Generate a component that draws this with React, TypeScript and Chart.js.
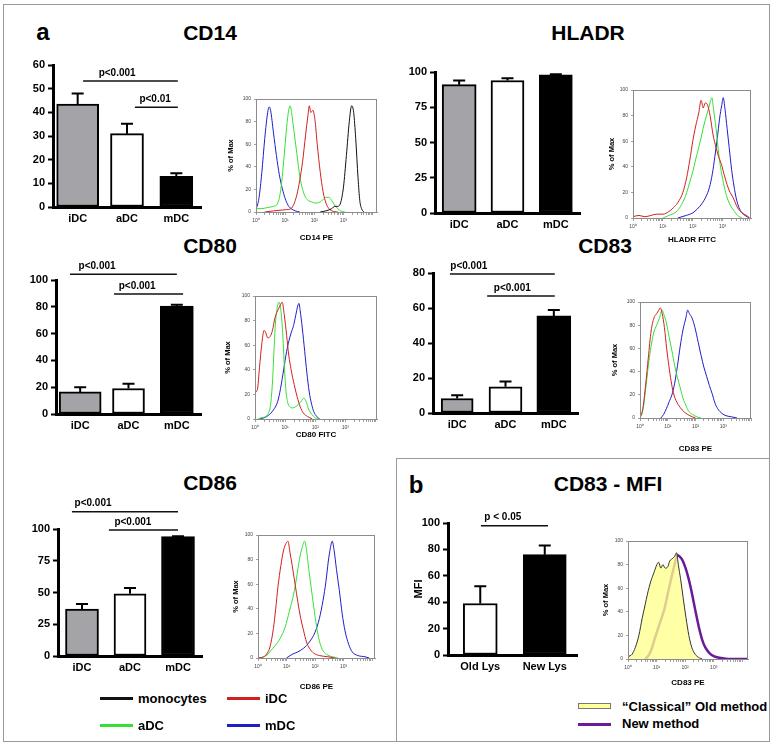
import React, { useEffect, useRef } from "react";
import { Chart, registerables } from "chart.js";

Chart.register(...registerables);

const FONT = "Arial, 'Liberation Sans', Helvetica, sans-serif";

// ---------------- bar chart data ----------------
const dcLabels = ["iDC", "aDC", "mDC"];
const cd14Means = [43.5, 31, 13];
const cd14Errors = [4.5, 4.2, 1.3];
const hladrMeans = [91, 94, 98];
const hladrErrors = [3, 1.5, 0.4];
const cd80Means = [16.5, 19, 80.5];
const cd80Errors = [3.5, 3.5, 1];
const cd83Means = [8.3, 15, 55.5];
const cd83Errors = [1.8, 3, 3.3];
const cd86Means = [37, 49, 94];
const cd86Errors = [4, 4.5, 0.3];
const mfiLabels = ["Old Lys", "New Lys"];
const mfiMeans = [39, 76];
const mfiErrors = [13, 7];

// significance brackets: [from category, to category, level, text position, text]
const cd14Sig = [
  [0.11, 2.03, 53.2, 0.8, "p<0.001"],
  [1.16, 2.03, 42.2, 1.57, "p<0.01"],
];
const cd80Sig = [
  [-0.21, 2.0, 104.2, 0.35, "p<0.001"],
  [0.7, 2.13, 89.5, 1.18, "p<0.001"],
];
const cd83Sig = [
  [-0.15, 2.02, 79.4, 0.24, "p<0.001"],
  [0.62, 2.02, 66.9, 1.14, "p<0.001"],
];
const cd86Sig = [
  [-0.21, 2.0, 113.6, 0.23, "p<0.001"],
  [0.56, 2.0, 99.2, 1.06, "p<0.001"],
];
const mfiSig = [[0.01, 1.05, 98, 0.35, "p < 0.05"]];

// ---------------- histogram data: [log10 decade, % of max] ----------------
const cd14Blue = [[0,2],[0.1,12],[0.2,35],[0.3,65],[0.4,88],[0.45,93],[0.5,90],[0.6,70],[0.7,50],[0.8,33],[0.9,21],[1.0,12],[1.1,6],[1.2,3],[1.35,1],[1.5,0]];
const cd14Green = [[0,28],[0.02,3],[0.2,3],[0.4,4],[0.6,5],[0.75,8],[0.85,20],[0.95,45],[1.05,75],[1.12,90],[1.17,94],[1.22,88],[1.3,72],[1.4,52],[1.5,32],[1.6,20],[1.7,13],[1.8,10],[1.9,9],[2.0,8],[2.1,8],[2.2,9],[2.3,11],[2.4,13],[2.5,13],[2.6,10],[2.7,6],[2.8,3],[2.9,1],[3.05,0]];
const cd14Red = [[0.3,0],[0.6,1],[1.0,2],[1.2,3],[1.3,7],[1.4,15],[1.5,28],[1.6,45],[1.7,68],[1.78,85],[1.83,94],[1.88,88],[1.95,90],[2.02,82],[2.1,60],[2.2,36],[2.3,18],[2.4,8],[2.5,3],[2.6,1],[2.8,0]];
const cd14Black = [[2.2,0],[2.4,1],[2.6,3],[2.7,5],[2.8,5],[2.9,8],[3.0,22],[3.1,50],[3.2,80],[3.28,94],[3.35,88],[3.42,65],[3.5,30],[3.56,10],[3.62,3],[3.7,0]];

const hladrRed = [[0,1],[0.2,2],[0.4,1],[0.6,2],[0.8,3],[1.0,3],[1.2,5],[1.35,8],[1.5,12],[1.67,20],[1.8,32],[1.9,45],[2.0,60],[2.1,72],[2.2,82],[2.28,92],[2.35,86],[2.42,90],[2.5,88],[2.58,80],[2.68,65],[2.78,55],[2.88,47],[2.96,42],[3.05,34],[3.15,26],[3.25,20],[3.35,16],[3.5,8],[3.65,4],[3.8,2],[3.9,0]];
const hladrGreen = [[1.0,0],[1.2,2],[1.4,4],[1.56,8],[1.7,14],[1.8,20],[1.9,28],[2.0,36],[2.1,46],[2.2,55],[2.3,65],[2.4,75],[2.5,83],[2.58,90],[2.64,94],[2.7,84],[2.78,70],[2.88,48],[2.98,33],[3.08,22],[3.18,14],[3.28,9],[3.4,5],[3.5,2],[3.65,0]];
const hladrBlue = [[1.5,0],[1.78,2],[2.0,4],[2.15,7],[2.3,11],[2.45,17],[2.56,24],[2.66,35],[2.74,48],[2.82,62],[2.9,78],[2.97,88],[3.02,94],[3.08,85],[3.15,70],[3.22,55],[3.3,38],[3.38,25],[3.46,15],[3.55,8],[3.65,4],[3.75,2],[3.9,0]];

const cd80Red = [[0,97],[0.015,22],[0.08,24],[0.15,42],[0.22,60],[0.3,72],[0.36,70],[0.42,66],[0.5,67],[0.58,72],[0.66,82],[0.75,88],[0.83,92],[0.9,95],[0.97,85],[1.05,68],[1.12,52],[1.2,40],[1.3,28],[1.4,18],[1.5,10],[1.6,5],[1.75,2],[1.9,0]];
const cd80Green = [[0.1,0],[0.2,1],[0.35,2],[0.45,5],[0.52,12],[0.58,30],[0.63,55],[0.68,78],[0.75,92],[0.8,95],[0.86,88],[0.92,70],[0.97,45],[1.02,25],[1.08,14],[1.15,10],[1.25,9],[1.35,10],[1.45,12],[1.55,15],[1.62,17],[1.7,14],[1.78,8],[1.88,4],[2.0,1],[2.15,0]];
const cd80Blue = [[0.15,0],[0.3,1],[0.45,3],[0.6,7],[0.75,14],[0.85,25],[0.95,40],[1.05,55],[1.12,63],[1.2,70],[1.28,76],[1.35,84],[1.42,92],[1.46,94],[1.5,88],[1.57,74],[1.65,55],[1.72,38],[1.8,22],[1.88,12],[1.95,6],[2.05,2],[2.15,0]];

const cd83Red = [[0,0],[0.1,8],[0.2,28],[0.3,52],[0.4,75],[0.5,86],[0.6,90],[0.68,93],[0.73,95],[0.8,90],[0.88,78],[0.96,60],[1.04,45],[1.12,32],[1.2,22],[1.3,15],[1.45,9],[1.6,5],[1.8,2],[2.0,0]];
const cd83Green = [[0,0],[0.1,6],[0.2,24],[0.3,45],[0.4,62],[0.5,74],[0.6,80],[0.7,86],[0.8,93],[0.85,90],[0.95,82],[1.05,70],[1.15,58],[1.25,45],[1.35,35],[1.45,26],[1.55,17],[1.65,11],[1.75,6],[1.9,3],[2.05,1],[2.2,0]];
const cd83Blue = [[0.75,0],[0.85,3],[0.95,8],[1.05,14],[1.15,20],[1.25,30],[1.35,45],[1.45,62],[1.55,76],[1.65,86],[1.72,93],[1.78,90],[1.88,86],[1.98,78],[2.1,65],[2.2,54],[2.3,44],[2.4,36],[2.5,28],[2.6,21],[2.7,13],[2.8,8],[2.95,4],[3.1,2],[3.3,1],[3.5,0]];

const cd86Red = [[0,0],[0.2,1],[0.3,3],[0.42,9],[0.54,24],[0.62,40],[0.7,58],[0.8,75],[0.9,88],[0.98,93],[1.05,95],[1.12,86],[1.2,75],[1.3,60],[1.4,45],[1.5,32],[1.6,22],[1.7,13],[1.8,8],[1.95,4],[2.15,2],[2.45,1],[2.7,0]];
const cd86Green = [[0,25],[0.02,0],[0.2,1],[0.35,3],[0.45,6],[0.6,10],[0.78,16],[0.95,25],[1.1,38],[1.25,52],[1.35,65],[1.45,80],[1.55,90],[1.63,95],[1.7,88],[1.78,72],[1.86,58],[1.95,42],[2.05,26],[2.15,14],[2.25,7],[2.4,3],[2.6,1],[2.8,0]];
const cd86Blue = [[1.0,0],[1.2,3],[1.4,5],[1.6,8],[1.8,13],[2.0,21],[2.15,32],[2.28,47],[2.38,62],[2.46,78],[2.54,90],[2.6,95],[2.67,87],[2.75,72],[2.85,55],[2.95,36],[3.05,22],[3.18,11],[3.3,5],[3.5,2],[3.75,1],[3.9,0]];

const mfiOld = [[0,2],[0.14,4],[0.26,10],[0.38,20],[0.5,35],[0.6,46],[0.68,55],[0.8,66],[0.92,74],[1.01,80],[1.07,82],[1.15,77],[1.22,80],[1.3,77],[1.39,78],[1.46,83],[1.55,85],[1.63,87],[1.7,90],[1.76,80],[1.84,68],[1.93,52],[2.03,35],[2.13,20],[2.23,10],[2.35,4],[2.5,1],[2.6,0]];
const mfiNew = [[0.6,0],[0.72,3],[0.82,8],[0.92,16],[1.04,25],[1.15,33],[1.27,42],[1.39,55],[1.51,68],[1.62,79],[1.72,88],[1.8,87],[1.9,84],[2.0,78],[2.1,70],[2.2,60],[2.3,48],[2.4,36],[2.5,25],[2.6,16],[2.7,10],[2.85,5],[3.0,2.5],[3.2,1],[3.5,0],[4.2,0]];

const histMajorLabels = ["10\u2070", "10\u00b9", "10\u00b2", "10\u00b3"];
const histYLabel = "% of Max";

// ---------------- styles ----------------
const RED = "#d02020";
const GREEN = "#35e035";
const BLUE = "#1e1ec8";
const BLACK = "#111111";
const PURPLE = "#6a1b9a";
const YELLOW_FILL = "rgba(255,255,140,0.78)";
const dcColors = ["#a4a4a8", "#ffffff", "#000000"];
const mfiColors = ["#ffffff", "#000000"];

const barPanels = [
  { key: "cd14", labels: dcLabels, means: cd14Means, errors: cd14Errors, sig: cd14Sig, max: 60, step: 10, axisX: 53, topY: 65, zeroY: 207, endX: 201, padTop: 12, colors: dcColors, widths: [42, 33, 33], yAxisW: 40 },
  { key: "hladr", labels: dcLabels, means: hladrMeans, errors: hladrErrors, sig: [], max: 100, step: 25, axisX: 435, topY: 72, zeroY: 213, endX: 580, padTop: 10, colors: dcColors, widths: [34, 33, 33], yAxisW: 40 },
  { key: "cd80", labels: dcLabels, means: cd80Means, errors: cd80Errors, sig: cd80Sig, max: 100, step: 20, axisX: 56, topY: 280, zeroY: 414, endX: 201, padTop: 25, colors: dcColors, widths: [42, 32, 33], yAxisW: 40 },
  { key: "cd83", labels: dcLabels, means: cd83Means, errors: cd83Errors, sig: cd83Sig, max: 80, step: 20, axisX: 433, topY: 273, zeroY: 413, endX: 578, padTop: 20, colors: dcColors, widths: [32, 33, 34], yAxisW: 40 },
  { key: "cd86", labels: dcLabels, means: cd86Means, errors: cd86Errors, sig: cd86Sig, max: 100, step: 25, axisX: 58, topY: 529, zeroY: 656, endX: 202, padTop: 36, colors: dcColors, widths: [33, 32, 33], yAxisW: 40 },
  { key: "mfi", labels: mfiLabels, means: mfiMeans, errors: mfiErrors, sig: mfiSig, max: 100, step: 20, axisX: 448, topY: 523, zeroY: 655, endX: 577, padTop: 18, colors: mfiColors, widths: [34, 43], yAxisW: 36, yTitle: "MFI" },
];

const histPanels = [
  { key: "h14", title: "CD14 PE", xMax: 4.15, L: 256, R: 377, T: 99, B: 212, yT: 231, xT: 238,
    curves: [{ p: cd14Black, c: BLACK }, { p: cd14Red, c: RED }, { p: cd14Green, c: GREEN }, { p: cd14Blue, c: BLUE }] },
  { key: "hdr", title: "HLADR FITC", xMax: 3.95, L: 633, R: 751, T: 90, B: 218, yT: 612, xT: 240,
    curves: [{ p: hladrRed, c: RED }, { p: hladrGreen, c: GREEN }, { p: hladrBlue, c: BLUE }] },
  { key: "h80", title: "CD80 FITC", xMax: 4.05, L: 255, R: 377, T: 296, B: 419, yT: 228, xT: 435,
    curves: [{ p: cd80Red, c: RED }, { p: cd80Green, c: GREEN }, { p: cd80Blue, c: BLUE }] },
  { key: "h83", title: "CD83 PE", xMax: 4.0, L: 640, R: 751, T: 302, B: 418, yT: 615, xT: 449,
    curves: [{ p: cd83Red, c: RED }, { p: cd83Green, c: GREEN }, { p: cd83Blue, c: BLUE }] },
  { key: "h86", title: "CD86 PE", xMax: 4.1, L: 258, R: 375, T: 535, B: 658, yT: 236, xT: 687,
    curves: [{ p: cd86Red, c: RED }, { p: cd86Green, c: GREEN }, { p: cd86Blue, c: BLUE }] },
  { key: "hmfi", title: "CD83 PE", xMax: 4.2, L: 628, R: 748, T: 541, B: 659, yT: 606, xT: 683,
    curves: [{ p: mfiOld, c: "#333333", fill: YELLOW_FILL }, { p: mfiNew, c: PURPLE, w: 2.5 }] },
];

const panelTitles = [
  { text: "a", x: 43, y: 32, size: 24 },
  { text: "CD14", x: 210, y: 32, size: 21 },
  { text: "HLADR", x: 588, y: 32, size: 21 },
  { text: "CD80", x: 210, y: 245, size: 21 },
  { text: "CD83", x: 605, y: 245, size: 21 },
  { text: "CD86", x: 210, y: 482, size: 21 },
  { text: "b", x: 416, y: 485, size: 24 },
  { text: "CD83 - MFI", x: 608, y: 483, size: 21 },
];

const legendA = [
  { text: "monocytes", color: BLACK, x: 100, y: 698 },
  { text: "iDC", color: RED, x: 227, y: 698 },
  { text: "aDC", color: GREEN, x: 100, y: 725 },
  { text: "mDC", color: BLUE, x: 227, y: 725 },
];

// ---------------- plugins ----------------
const errorBarPlugin = {
  id: "errorBars",
  afterDatasetsDraw(chart: any) {
    const { ctx } = chart;
    const ys = chart.scales.y;
    ctx.save();
    ctx.strokeStyle = "#000";
    ctx.lineWidth = 2;
    chart.data.datasets.forEach((ds: any, d: number) => {
      const meta = chart.getDatasetMeta(d);
      meta.data.forEach((el: any, i: number) => {
        const v = ds.data[i];
        const e = ds.errors ? ds.errors[i] : null;
        if (v == null || e == null) return;
        const y0 = ys.getPixelForValue(v);
        const y1 = ys.getPixelForValue(v + e);
        ctx.beginPath();
        ctx.moveTo(el.x, y0);
        ctx.lineTo(el.x, y1);
        ctx.moveTo(el.x - 6, y1);
        ctx.lineTo(el.x + 6, y1);
        ctx.stroke();
      });
    });
    ctx.restore();
  },
};

function makeSigPlugin(sig: any[]) {
  return {
    id: "sigBrackets",
    afterDraw(chart: any) {
      const { ctx } = chart;
      const xs = chart.scales.x;
      const ys = chart.scales.y;
      ctx.save();
      ctx.strokeStyle = "#111";
      ctx.lineWidth = 1.5;
      ctx.fillStyle = "#000";
      ctx.font = `bold 10px ${FONT}`;
      ctx.textAlign = "center";
      ctx.textBaseline = "bottom";
      for (const [a, b, lvl, lx, txt] of sig) {
        const py = ys.getPixelForValue(lvl);
        ctx.beginPath();
        ctx.moveTo(xs.getPixelForValue(a), py);
        ctx.lineTo(xs.getPixelForValue(b), py);
        ctx.stroke();
        ctx.fillText(txt, xs.getPixelForValue(lx), py - 3);
      }
      ctx.restore();
    },
  };
}

const boxPlugin = {
  id: "histBox",
  afterDraw(chart: any) {
    const a = chart.chartArea;
    const { ctx } = chart;
    ctx.save();
    ctx.strokeStyle = "#8c8c8c";
    ctx.lineWidth = 1;
    ctx.strokeRect(Math.round(a.left) + 0.5, Math.round(a.top) + 0.5, Math.round(a.right - a.left) - 1, Math.round(a.bottom - a.top));
    ctx.restore();
  },
};

// ---------------- components ----------------
function BarChart({ p }: any) {
  const ref = useRef<HTMLCanvasElement>(null);
  const left = p.axisX - p.yAxisW;
  const top = p.topY - p.padTop;
  const width = p.endX - left + 4;
  const height = p.zeroY + 25 - top;
  useEffect(() => {
    const datasets = p.labels.map((lab: string, i: number) => ({
      label: lab,
      data: p.means.map((v: number, j: number) => (j === i ? v : null)),
      errors: p.errors.map((v: number, j: number) => (j === i ? v : null)),
      backgroundColor: p.colors[i],
      borderColor: "#000",
      borderWidth: 2,
      borderSkipped: false,
      barThickness: p.widths[i],
      grouped: false,
    }));
    const tickFont = { family: FONT, size: 11, weight: "bold" };
    const chart = new Chart(ref.current as HTMLCanvasElement, {
      type: "bar",
      data: { labels: p.labels, datasets },
      options: {
        responsive: false,
        animation: false,
        events: [],
        layout: { padding: { top: p.padTop, right: 4, left: 0, bottom: 0 } },
        plugins: { legend: { display: false }, tooltip: { enabled: false } },
        scales: {
          x: {
            offset: true,
            grid: { display: false, drawTicks: false },
            border: { display: true, color: "#000", width: 3 },
            ticks: { color: "#000", font: tickFont, padding: 5 },
            afterFit: (s: any) => { s.height = 25; },
          },
          y: {
            min: 0,
            max: p.max,
            ticks: { stepSize: p.step, color: "#000", font: tickFont, padding: 3 },
            grid: { drawOnChartArea: false, drawTicks: true, tickLength: 5, tickWidth: 2, tickColor: "#000" },
            border: { display: true, color: "#000", width: 3 },
            title: p.yTitle
              ? { display: true, text: p.yTitle, color: "#000", font: { family: FONT, size: 11, weight: "bold" }, padding: 0 }
              : { display: false },
            afterFit: (s: any) => { s.width = p.yAxisW; },
          },
        },
      } as any,
      plugins: [errorBarPlugin, makeSigPlugin(p.sig)],
    } as any);
    return () => chart.destroy();
  }, []);
  return <canvas ref={ref} width={width} height={height} style={{ position: "absolute", left, top, width, height }} />;
}

function HistChart({ h }: any) {
  const ref = useRef<HTMLCanvasElement>(null);
  const left = Math.round(h.yT - 5);
  const top = h.T - 6;
  const width = h.R + 4 - left;
  const bottom = Math.round(h.xT + 5);
  const height = bottom - top;
  useEffect(() => {
    const tickVals: number[] = [];
    for (let n = 0; n <= 4; n++) {
      for (let k = 1; k <= 9; k++) {
        const v = n + Math.log10(k);
        if (v <= h.xMax + 1e-9) tickVals.push(v);
      }
    }
    const datasets = h.curves.map((c: any) => ({
      data: c.p.map((pt: number[]) => ({ x: pt[0], y: pt[1] })),
      borderColor: c.c,
      borderWidth: c.w || 1,
      pointRadius: 0,
      fill: c.fill ? "origin" : false,
      backgroundColor: c.fill || "transparent",
      cubicInterpolationMode: "monotone",
    }));
    const small = { family: FONT, size: 5 };
    const chart = new Chart(ref.current as HTMLCanvasElement, {
      type: "line",
      data: { datasets },
      options: {
        responsive: false,
        animation: false,
        events: [],
        layout: { padding: { top: 6, right: 4, left: 0, bottom: 0 } },
        plugins: { legend: { display: false }, tooltip: { enabled: false } },
        scales: {
          x: {
            type: "linear",
            min: 0,
            max: h.xMax,
            afterBuildTicks: (s: any) => { s.ticks = tickVals.map((value) => ({ value })); },
            ticks: {
              autoSkip: false,
              maxRotation: 0,
              minRotation: 0,
              color: "#444",
              font: small,
              padding: 3,
              callback: (value: number) => {
                const i = Math.round(value);
                return Math.abs(value - i) < 1e-6 && i < histMajorLabels.length ? histMajorLabels[i] : "";
              },
            },
            grid: { drawOnChartArea: false, drawTicks: true, tickLength: 3, tickWidth: 0.8, tickColor: "#888" },
            border: { display: true, color: "#8c8c8c", width: 1 },
            title: { display: true, text: h.title, color: "#000", font: { family: FONT, size: 8, weight: "bold" }, padding: 0 },
            afterFit: (s: any) => { s.height = bottom - h.B; },
          },
          y: {
            min: 0,
            max: 100,
            ticks: { stepSize: 20, color: "#444", font: small, padding: 3 },
            grid: { drawOnChartArea: false, drawTicks: true, tickLength: 2, tickWidth: 0.8, tickColor: "#888" },
            border: { display: true, color: "#8c8c8c", width: 1 },
            title: { display: true, text: histYLabel, color: "#000", font: { family: FONT, size: 7.5, weight: "bold" }, padding: 0 },
            afterFit: (s: any) => { s.width = h.L - left; },
          },
        },
      } as any,
      plugins: [boxPlugin],
    } as any);
    return () => chart.destroy();
  }, []);
  return <canvas ref={ref} width={width} height={height} style={{ position: "absolute", left, top, width, height }} />;
}

function Txt({ x, y, size, children, center = true }: any) {
  return (
    <div
      style={{
        position: "absolute",
        left: x,
        top: y,
        transform: center ? "translate(-50%, -50%)" : "translate(0, -50%)",
        fontSize: size,
        fontWeight: "bold",
        lineHeight: 1,
        whiteSpace: "nowrap",
        color: "#000",
      }}
    >
      {children}
    </div>
  );
}

export default function App() {
  return (
    <div
      style={{
        position: "absolute",
        left: 0,
        top: 0,
        width: 775,
        height: 749,
        background: "#fff",
        fontFamily: FONT,
        overflow: "hidden",
      }}
    >
      <div style={{ position: "absolute", left: 3, top: 4, width: 767, height: 738, border: "1px solid #9a9a9a", boxSizing: "border-box" }} />
      <div style={{ position: "absolute", left: 396, top: 458, width: 374, height: 284, border: "1px solid #9a9a9a", boxSizing: "border-box" }} />
      {panelTitles.map((t) => (
        <Txt key={t.text + t.x} x={t.x} y={t.y} size={t.size}>{t.text}</Txt>
      ))}
      {barPanels.map((p) => (
        <BarChart key={p.key} p={p} />
      ))}
      {histPanels.map((h) => (
        <HistChart key={h.key} h={h} />
      ))}
      {legendA.map((l) => (
        <React.Fragment key={l.text}>
          <div style={{ position: "absolute", left: l.x, top: l.y - 1.5, width: 33, height: 3, background: l.color }} />
          <Txt x={l.x + 38} y={l.y} size={13} center={false}>{l.text}</Txt>
        </React.Fragment>
      ))}
      <div style={{ position: "absolute", left: 578, top: 703, width: 33, height: 6, background: "#ffff9c", border: "1px solid #777", boxSizing: "border-box" }} />
      <Txt x={622} y={706} size={13} center={false}>{"\u201cClassical\u201d Old method"}</Txt>
      <div style={{ position: "absolute", left: 578, top: 722.5, width: 33, height: 3, background: PURPLE }} />
      <Txt x={622} y={723} size={13} center={false}>New method</Txt>
    </div>
  );
}
